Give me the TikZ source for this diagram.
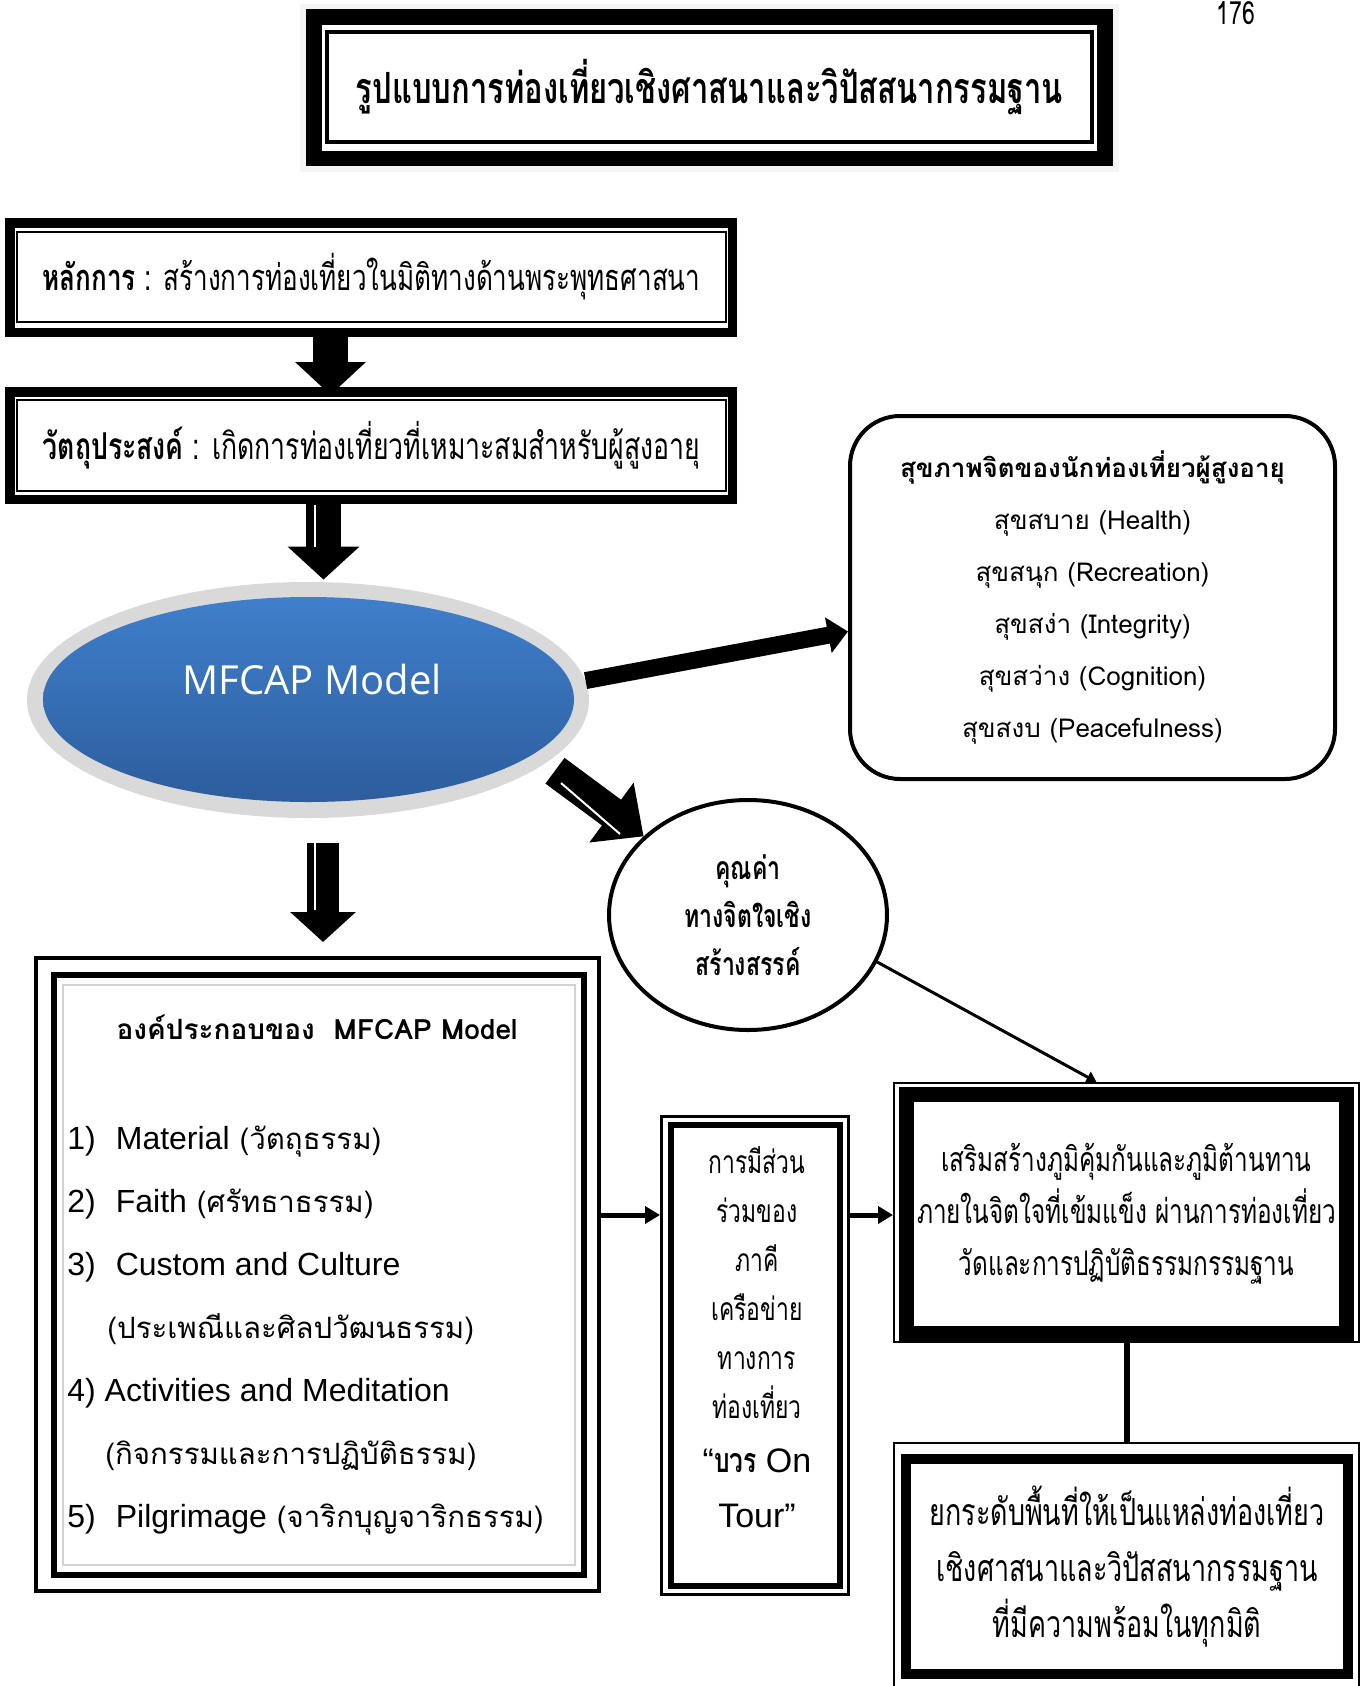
\documentclass[tikz,border=0pt]{standalone}
\usepackage{fontspec}
\setmainfont{Liberation Sans}
\newfontfamily\thaifont[Script=Thai]{Loma}
\newfontfamily\thaicond[Script=Thai,FakeStretch=0.72]{Loma}
\newfontfamily\modelfont{Open Sans}
\newfontfamily\latinfont{Liberation Sans}
\newcommand{\enword}[1]{{\latinfont\fontsize{16}{31.5}\selectfont #1}}
\usetikzlibrary{arrows.meta,shapes.geometric}

\definecolor{ringgray}{RGB}{217,217,217}
\definecolor{bluetop}{RGB}{63,127,204}
\definecolor{bluebottom}{RGB}{45,93,156}

\tikzset{
  boxframe/.style={draw,line width=#1,inner sep=0pt},
  stripe/.style={white,line width=1pt},
  feeder/.style={line width=2.5pt,-{Triangle[length=7.5pt,width=8.5pt]}},
}

\begin{document}
\begin{tikzpicture}[x=0.5pt,y=-0.5pt]
\useasboundingbox (0,0) rectangle (1368,1686);

\fill[gray!8] (300,4) rectangle (1119,172);%soft shadow
\fill (306,9) rectangle (1113,166);%heavy title frame
\fill[white] (322,25) rectangle (1097,151);
\node[boxframe=2pt,minimum width=382.5pt,minimum height=55pt,font=\thaicond\bfseries\fontsize{21.5}{24}\selectfont] (title) at (709.5,87) {รูปแบบการท่องเที่ยวเชิงศาสนาและวิปัสสนากรรมฐาน};
\node[anchor=base,font=\thaicond\fontsize{16}{18}\selectfont] (page) at (1236,25) {176};

\node[boxframe=4.75pt,minimum width=361.25pt,minimum height=54.75pt] (box1frame) at (371,277.5) {};%principle
\node[boxframe=1.25pt,minimum width=354.5pt,minimum height=45pt,font=\thaicond\fontsize{18.1}{20}\selectfont] (box1) at (371.5,277) {\textbf{หลักการ} : สร้างการท่องเที่ยวในมิติทางด้านพระพุทธศาสนา};

\node[boxframe=4.75pt,minimum width=361.25pt,minimum height=53.75pt] (box2frame) at (371,445.5) {};%objective
\node[boxframe=1.25pt,minimum width=354.5pt,minimum height=45.5pt,font=\thaicond\fontsize{18.5}{20}\selectfont] (box2) at (371.5,445.5) {\textbf{วัตถุประสงค์} : เกิดการท่องเที่ยวที่เหมาะสมสำหรับผู้สูงอายุ};

\node[ellipse,fill=ringgray,minimum width=281pt,minimum height=118pt,inner sep=0pt] (mfcapring) at (308,700) {};
\node[ellipse,top color=bluetop,bottom color=bluebottom,minimum width=265.5pt,minimum height=102.5pt,inner sep=0pt] (mfcap) at (308.5,699.5) {};
\node[text=white,font=\modelfont\fontsize{20}{22}\selectfont] (mfcaplabel) at (312,679) {MFCAP Model};

\node[draw,line width=2pt,rounded corners=25pt,minimum width=242.5pt,minimum height=181.5pt,align=center,font=\thaifont\fontsize{13}{26}\selectfont] (health) at (1092.5,597.5) {\textbf{สุขภาพจิตของนักท่องเที่ยวผู้สูงอายุ}\\สุขสบาย (Health)\\สุขสนุก (Recreation)\\สุขสง่า (Integrity)\\สุขสว่าง (Cognition)\\สุขสงบ (Peacefulness)};

\node[draw,ellipse,line width=2pt,minimum width=139pt,minimum height=115pt,inner sep=0pt,align=center,font=\thaicond\bfseries\fontsize{16}{24}\selectfont] (value) at (748,915) {คุณค่า\\ทางจิตใจเชิง\\สร้างสรรค์};

\node[boxframe=2pt,minimum width=281.5pt,minimum height=316.5pt] (compouter) at (317.5,1274.5) {};%components
\node[boxframe=3pt,minimum width=265pt,minimum height=300pt] (comp) at (319,1275) {};
\draw[gray!35,line width=0.6pt] (63,985) rectangle (575,1565);%inner panel
\node[font=\thaifont\bfseries\fontsize{14}{15}\selectfont] (comptitle) at (317,1027) {องค์ประกอบของ\ \ MFCAP Model};
\node[anchor=west,inner sep=0pt,align=left,font=\thaifont\fontsize{14.7}{31.5}\selectfont] (compitems) at (67,1330.5) {\enword{1)\hspace{10pt}Material} (วัตถุธรรม)\\\enword{2)\hspace{10pt}Faith} (ศรัทธาธรรม)\\\enword{3)\hspace{10pt}Custom and Culture}\\\hspace*{20pt}(ประเพณีและศิลปวัฒนธรรม)\\\enword{4) Activities and Meditation}\\\hspace*{19pt}(กิจกรรมและการปฏิบัติธรรม)\\\enword{5)\hspace{10pt}Pilgrimage} (จาริกบุญจาริกธรรม)};

\node[boxframe=1.5pt,minimum width=93.5pt,minimum height=239pt] (netouter) at (755,1355.5) {};%network
\node[boxframe=3pt,minimum width=84.5pt,minimum height=230.5pt] (network) at (755.5,1355.5) {};
\node[align=center,font=\thaicond\fontsize{15.9}{24.5}\selectfont] (networktext) at (757,1337) {การมีส่วน\\ร่วมของ\\ภาคี\\เครือข่าย\\ทางการ\\ท่องเที่ยว\\[2.75pt]{\latinfont\fontsize{17}{24.5}\selectfont “{\thaicond\bfseries บวร} On}\\[2.75pt]{\latinfont\fontsize{17}{24.5}\selectfont Tour”}};

\node[boxframe=1pt,minimum width=232.5pt,minimum height=129.5pt] (immuneouter) at (1126.5,1212.5) {};
\node[boxframe=7.5pt,minimum width=220pt,minimum height=119.5pt,align=center,font=\thaicond\fontsize{16.9}{26}\selectfont] (immune) at (1126.5,1214) {เสริมสร้างภูมิคุ้มกันและภูมิต้านทาน\\ภายในจิตใจที่เข้มแข็ง ผ่านการท่องเที่ยว\\วัดและการปฏิบัติธรรมกรรมฐาน};

\node[boxframe=1pt,minimum width=232.5pt,minimum height=128.5pt] (upgradeouter) at (1126.5,1571.5) {};
\node[boxframe=5pt,minimum width=221pt,minimum height=107.5pt,align=center,font=\thaicond\fontsize{18.7}{28}\selectfont] (upgrade) at (1127,1566.5) {ยกระดับพื้นที่ให้เป็นแหล่งท่องเที่ยว\\เชิงศาสนาและวิปัสสนากรรมฐาน\\ที่มีความพร้อมในทุกมิติ};

\coordinate (ax) at (330.5,0);
\coordinate (bx) at (323.5,0);
\coordinate (ex) at (323,0);
\coordinate (mid) at (0,1215);
\draw[line width=17.5pt,-{Triangle[length=16.5pt,width=34.5pt]},shorten >=-4pt] (ax |- box1frame.south) -- (ax |- box2frame.north);
\draw[line width=17.5pt,-{Triangle[length=16.5pt,width=35pt]},shorten >=1pt] (bx |- box2frame.south) -- (bx |- mfcapring.north);
\draw[stripe] (315,505) -- (315,547);
\draw[line width=8.5pt,-{Triangle[length=10pt,width=17.5pt]}] (mfcapring.4) -- ([yshift=-17pt]health.west);
\draw[line width=16pt,-{Triangle[length=20pt,width=36pt]},shorten <=6pt] (mfcapring.-15) -- (value.143);
\draw[stripe] (561,783) -- (620,834);
\draw[line width=16pt,-{Triangle[length=15pt,width=32pt]},shorten <=12.5pt,shorten >=7pt] (ex |- mfcapring.south) -- (ex |- compouter.north);
\draw[stripe] (315,843) -- (315,910);
\draw[line width=1.5pt,-{Triangle[length=5pt,width=6pt]}] (value.-20) -- ([xshift=-15pt]immuneouter.north);
\draw[feeder] (compouter.east |- mid) -- (netouter.west |- mid);
\draw[feeder] (netouter.east |- mid) -- (immuneouter.west |- mid);
\draw[line width=3pt] (immuneouter.south) -- (upgradeouter.north);

\end{tikzpicture}
\end{document}
